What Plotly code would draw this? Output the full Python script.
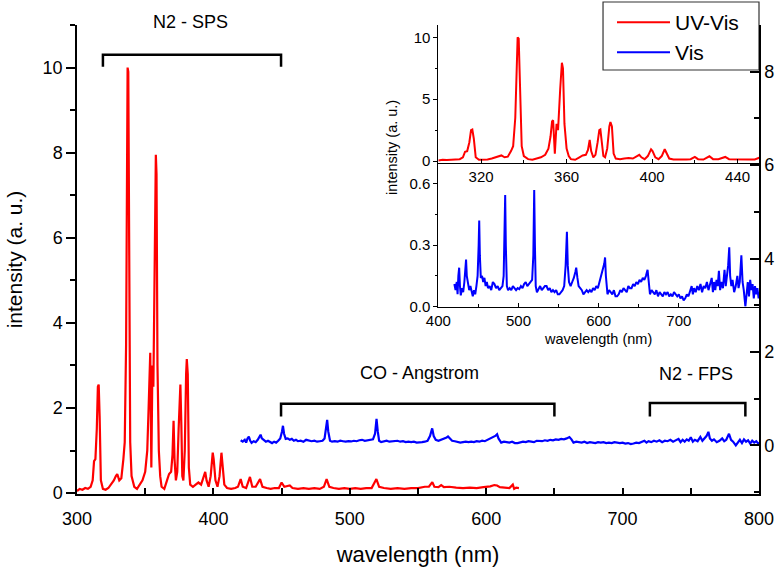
import plotly.graph_objects as go

# ---------------- data ----------------
series_names = ["UV-Vis", "Vis"]
series_colors = ["#ff0000", "#0000ff"]

uv_wl = [300, 302, 304, 306, 308, 310, 311.5, 312.5, 313.5, 314.5, 315.3, 315.9, 316.6, 317.5, 319,
         321, 323, 325, 327, 328.5, 329.5, 331, 332.5, 334, 335, 336, 336.6, 337.1, 337.6, 338.2, 339,
         340, 342, 344, 346, 348, 350, 351.5, 352.5, 353.2, 353.7, 354.5, 355.3, 356, 357, 357.5, 357.8,
         358.3, 359, 360, 361, 362, 364, 366, 367.5, 369, 370, 370.8, 371.5, 372.5, 373.5, 374.5, 375.3,
         375.8, 376.5, 377.2, 378, 379, 380, 380.5, 381.2, 382, 383, 385, 387, 389, 391, 393, 394, 395,
         396.5, 398, 399.5, 400.2, 401.5, 403, 404.5, 405.9, 407, 408, 410, 413, 416, 418, 420, 421.5,
         424, 426.8, 428.5, 431, 434.2, 436, 439, 442, 445, 448, 450, 452, 456, 458, 462, 466, 470, 474,
         478, 481, 483, 485, 488, 492, 496, 500, 504, 508, 512, 516, 519.5, 521.5, 525, 530, 535, 540,
         545, 550, 555, 558, 560.5, 562, 565, 567, 569, 573, 578, 583, 588, 593, 598, 603, 606, 608, 610,
         614, 617, 619.5, 620.5, 622, 624]
uv_int = [0.05, 0.1, 0.08, 0.12, 0.1, 0.15, 0.3, 0.75, 0.8, 1.5, 2.5, 2.55, 1.8, 0.3, 0.1,
          0.08, 0.12, 0.2, 0.3, 0.4, 0.45, 0.3, 0.35, 0.8, 1.2, 3.5, 8.7, 10.0, 9.9, 6.7, 1.2,
          0.4, 0.15, 0.1, 0.2, 0.3, 0.5, 1.0, 2.0, 3.2, 3.3, 0.6, 3.0, 2.5, 5.8, 7.5, 7.95,
          7.5, 3.0, 1.0, 0.4, 0.15, 0.1, 0.3, 0.45, 0.5, 0.9, 1.7, 0.8, 0.3, 0.5, 1.5, 2.5,
          2.55, 1.6, 0.4, 0.3, 1.0, 2.8, 3.15, 2.8, 0.6, 0.2, 0.15, 0.2, 0.25, 0.2, 0.4, 0.5, 0.3,
          0.15, 0.4, 0.95, 0.8, 0.3, 0.15, 0.4, 0.95, 0.5, 0.2, 0.12, 0.1, 0.12, 0.15, 0.33, 0.15,
          0.12, 0.38, 0.15, 0.15, 0.33, 0.15, 0.12, 0.1, 0.12, 0.12, 0.25, 0.15, 0.18, 0.12, 0.1, 0.12, 0.1, 0.12,
          0.1, 0.15, 0.33, 0.15, 0.12, 0.1, 0.12, 0.1, 0.12, 0.1, 0.12, 0.12, 0.33, 0.15, 0.12, 0.1, 0.12, 0.1,
          0.12, 0.12, 0.15, 0.15, 0.26, 0.15, 0.14, 0.19, 0.14, 0.15, 0.13, 0.12, 0.13, 0.12, 0.14, 0.16, 0.19, 0.18, 0.14,
          0.12, 0.12, 0.2, 0.1, 0.13, 0.12]

vis_wl = [420, 421.5, 423, 424, 425, 426, 427, 428, 429.5, 431, 432.5, 433.5, 434.6, 435.5, 437, 438.5,
          440, 441.5, 443, 444.5, 446, 447.5, 449, 450.3, 451, 451.8, 453, 454.5, 456, 457.5, 459, 460.5,
          462, 464, 466, 468, 470, 472, 474, 476, 478, 480, 481.5, 482.5, 483.4, 484.2, 485.5, 487, 489,
          491, 493, 495, 497, 499, 501, 503, 505, 507, 509, 511, 513, 515, 517, 518.5, 519.6, 520.5, 521.5,
          523, 525, 527, 529, 531, 533, 535, 537, 539, 541, 543, 545, 547, 549, 551, 553, 555, 557, 558.8,
          560.4, 561.5, 563, 565, 567, 569, 571, 572, 573.5, 575, 577, 579, 581, 583, 585, 587, 589, 591,
          593, 595, 597, 599, 601, 603, 605, 607, 608, 609, 611, 613, 615, 617, 619, 621, 623, 625, 627,
          629, 631, 633, 635, 637, 639, 641, 643, 645, 647, 649, 651, 653, 655, 657, 659, 661, 662.5, 664,
          666, 668, 670, 672, 674, 676, 678, 680, 682, 684, 686, 688, 690, 692, 694, 696, 698, 700, 702,
          704, 706, 708, 710, 712, 714, 716, 717.5, 719, 721, 723, 725, 727, 729, 731, 733, 735, 737, 739,
          741, 742.5, 744, 745.5, 747, 748.5, 750, 751.5, 753, 755, 757, 758.5, 760, 761.5, 762.9, 764,
          765.5, 767, 769, 771, 773, 774.5, 776, 778, 779.5, 781, 783, 784.5, 786, 787.5, 789, 790.5, 792,
          793.5, 795, 796.5, 798, 799.5, 800]
vis_int = [0.11, 0.08, 0.12, 0.06, 0.15, 0.19, 0.1, 0.055, 0.09, 0.07, 0.12, 0.18, 0.23, 0.15, 0.12, 0.08,
           0.1, 0.07, 0.05, 0.08, 0.06, 0.1, 0.15, 0.3, 0.42, 0.25, 0.14, 0.15, 0.12, 0.14, 0.1, 0.12,
           0.09, 0.1, 0.08, 0.12, 0.11, 0.09, 0.1, 0.08, 0.09, 0.1, 0.15, 0.35, 0.545, 0.3, 0.1, 0.08, 0.09,
           0.08, 0.1, 0.09, 0.08, 0.09, 0.085, 0.1, 0.09, 0.11, 0.12, 0.1, 0.11, 0.12, 0.13, 0.25, 0.57, 0.3, 0.1,
           0.07, 0.09, 0.1, 0.08, 0.09, 0.1, 0.1, 0.08, 0.09, 0.07, 0.08, 0.07, 0.08, 0.06, 0.06, 0.07, 0.08, 0.1, 0.2,
           0.365, 0.2, 0.12, 0.1, 0.12, 0.14, 0.17, 0.19, 0.14, 0.1, 0.09, 0.08, 0.06, 0.07, 0.08, 0.07, 0.08, 0.07,
           0.09, 0.08, 0.1, 0.09, 0.12, 0.14, 0.17, 0.21, 0.24, 0.15, 0.06, 0.08, 0.07, 0.06, 0.08, 0.05, 0.05, 0.06, 0.08,
           0.07, 0.09, 0.08, 0.07, 0.1, 0.09, 0.09, 0.11, 0.1, 0.12, 0.11, 0.13, 0.12, 0.14, 0.13, 0.15, 0.18, 0.13, 0.06,
           0.08, 0.07, 0.06, 0.08, 0.05, 0.07, 0.06, 0.05, 0.07, 0.06, 0.07, 0.05, 0.06, 0.05, 0.07, 0.06, 0.05, 0.06, 0.04,
           0.05, 0.03, 0.04, 0.06, 0.05, 0.08, 0.1, 0.06, 0.09, 0.07, 0.1, 0.08, 0.11, 0.07, 0.1, 0.09, 0.12, 0.08, 0.11,
           0.14, 0.07, 0.12, 0.08, 0.13, 0.1, 0.175, 0.08, 0.12, 0.09, 0.18, 0.1, 0.14, 0.2, 0.29, 0.15,
           0.1, 0.13, 0.07, 0.1, 0.15, 0.09, 0.12, 0.25, 0.12, 0.08, 0.0, 0.07, 0.12, 0.05, 0.13, 0.08, 0.11,
           0.04, 0.1, 0.06, 0.09, 0.04, 0.07]

main_x_ticks = [300, 400, 500, 600, 700, 800]
main_y_ticks = [0, 2, 4, 6, 8, 10]
right_y_ticks = [0, 2, 4, 6, 8]
inset_top_x_ticks = [320, 360, 400, 440]
inset_top_y_ticks = [0, 5, 10]
inset_bot_x_ticks = [400, 500, 600, 700]
inset_bot_y_ticks = [0.0, 0.3, 0.6]

# band brackets: (label, start nm, end nm, bracket top, bracket foot, label x, label y, label y ref)
bands = [
    ("N2 - SPS", 319, 449.6, 10.30, 10.02, 383, 1.007, "paper"),
    ("CO - Angstrom", 449.6, 650, 2.10, 1.80, 551, 2.82, "y"),
    ("N2 - FPS", 720, 790, 2.12, 1.80, 754, 2.80, "y"),
]

FONT = "Liberation Sans, Arial, sans-serif"

fig = go.Figure()
fig.add_trace(go.Scatter(x=uv_wl, y=uv_int, mode="lines", name=series_names[0], xaxis="x", yaxis="y",
                         line=dict(color=series_colors[0], width=2.2), showlegend=False))
fig.add_trace(go.Scatter(x=vis_wl, y=vis_int, mode="lines", name=series_names[1], xaxis="x", yaxis="y2",
                         line=dict(color=series_colors[1], width=2.2), showlegend=False))
fig.add_trace(go.Scatter(x=uv_wl, y=uv_int, mode="lines", name=series_names[0], xaxis="x3", yaxis="y3",
                         line=dict(color=series_colors[0], width=2), showlegend=False))
fig.add_trace(go.Scatter(x=vis_wl, y=vis_int, mode="lines", name=series_names[1], xaxis="x4", yaxis="y4",
                         line=dict(color=series_colors[1], width=2), showlegend=False))

axis_common = dict(showgrid=False, zeroline=False, showline=True, linecolor="black", automargin=False,
                   tickcolor="black", tickfont=dict(family=FONT, color="black"))

inset_x0 = 0.5298
top_dom = [0.705, 1.0]
bot_dom = [0.3997, 0.705]

fig.update_layout(
    width=779, height=569,
    margin=dict(l=77, r=20, t=25, b=75, autoexpand=False),
    paper_bgcolor="white", plot_bgcolor="rgba(0,0,0,0)",
    font=dict(family=FONT, color="black"),
    xaxis=dict(axis_common, domain=[0, 1], range=[300, 800], anchor="y", linewidth=1.5,
               tickvals=main_x_ticks, ticks="inside", ticklen=6, tickwidth=1.5,
               ticklabelstandoff=8, tickfont=dict(size=18, family=FONT, color="black"),
               minor=dict(dtick=50, tick0=300, ticks="inside", ticklen=6, tickwidth=1.5, tickcolor="black"),
               title=dict(text="wavelength (nm)", font=dict(size=22, family=FONT, color="black"), standoff=18)),
    yaxis=dict(axis_common, domain=[0, 1], range=[-0.02, 11], anchor="x", linewidth=1.5,
               tickvals=main_y_ticks, ticks="outside", ticklen=9, tickwidth=1.5,
               tickfont=dict(size=18, family=FONT, color="black"),
               minor=dict(dtick=1, tick0=0, ticks="outside", ticklen=5, tickwidth=1.5, tickcolor="black"),
               title=dict(text="intensity (a. u.)", font=dict(size=21, family=FONT, color="black"), standoff=14)),
    yaxis2=dict(axis_common, overlaying="y", side="right", anchor="x", range=[-1.04, 9.0], linewidth=1.5,
                tickvals=right_y_ticks, ticks="inside", ticklen=9, tickwidth=1.5,
                tickfont=dict(size=18, family=FONT, color="black"),
                minor=dict(dtick=1, tick0=-1, ticks="inside", ticklen=5, tickwidth=1.5, tickcolor="black")),
    xaxis3=dict(axis_common, domain=[inset_x0, 1], range=[300, 450], anchor="y3", linewidth=1,
                tickvals=inset_top_x_ticks, ticks="inside", ticklen=4,
                tickfont=dict(size=15, family=FONT, color="black"),
                minor=dict(dtick=20, tick0=300, ticks="inside", ticklen=3, tickcolor="black")),
    yaxis3=dict(axis_common, domain=top_dom, range=[-0.19, 11], anchor="x3", linewidth=1,
                tickvals=inset_top_y_ticks, ticks="outside", ticklen=4,
                tickfont=dict(size=15, family=FONT, color="black"),
                minor=dict(dtick=2.5, tick0=0, ticks="outside", ticklen=2, tickcolor="black")),
    xaxis4=dict(axis_common, domain=[inset_x0, 1], range=[400, 800], anchor="y4", linewidth=1,
                tickvals=inset_bot_x_ticks, ticks="inside", ticklen=4,
                tickfont=dict(size=15, family=FONT, color="black"),
                minor=dict(dtick=50, tick0=400, ticks="inside", ticklen=3, tickcolor="black"),
                title=dict(text="wavelength (nm)", font=dict(size=14.5, family=FONT, color="black"), standoff=6)),
    yaxis4=dict(axis_common, domain=bot_dom, range=[0, 0.7], anchor="x4", linewidth=1,
                tickvals=inset_bot_y_ticks, tickformat=".1f", ticks="outside", ticklen=4,
                tickfont=dict(size=15, family=FONT, color="black"),
                minor=dict(dtick=0.15, tick0=0, ticks="outside", ticklen=2, tickcolor="black")),
)

shapes = []
annotations = []
for label, x0, x1, ytop, yfoot, xlab, ylab, yref in bands:
    shapes.append(dict(type="path", xref="x", yref="y",
                       path=f"M {x0},{yfoot} L {x0},{ytop} L {x1},{ytop} L {x1},{yfoot}",
                       line=dict(color="black", width=2.5)))
    annotations.append(dict(x=xlab, y=ylab, xref="x", yref=yref, text=label, showarrow=False,
                            font=dict(size=18, family=FONT, color="black"),
                            xanchor="center", yanchor="middle"))

# inset y title
annotations.append(dict(x=0.4619, y=0.738, xref="paper", yref="paper", text="intensity (a. u.)",
                        textangle=-90, showarrow=False, xanchor="center", yanchor="middle",
                        font=dict(size=14.5, family=FONT, color="black")))

# legend box (drawn manually to match the original layout)
lx0, lx1, ly0, ly1 = 0.7713, 1.0, 0.904, 1.049
shapes.append(dict(type="rect", xref="paper", yref="paper", x0=lx0, x1=lx1, y0=ly0, y1=ly1,
                   line=dict(color="#333333", width=1.2), fillcolor="white", layer="below"))
entry_y = [1.006, 0.942]
for name, col, ey in zip(series_names, series_colors, entry_y):
    shapes.append(dict(type="line", xref="paper", yref="paper", x0=0.7918, x1=0.8695, y0=ey, y1=ey,
                       line=dict(color=col, width=2), layer="below"))
    annotations.append(dict(x=0.8735, y=ey, xref="paper", yref="paper", text=name, showarrow=False,
                            xanchor="left", yanchor="middle",
                            font=dict(size=21, family=FONT, color="black")))

fig.update_layout(shapes=shapes, annotations=annotations)
fig.write_html("out.html", config={"displayModeBar": False},
               post_script="document.body.style.margin='0';document.body.style.overflow='hidden';")
